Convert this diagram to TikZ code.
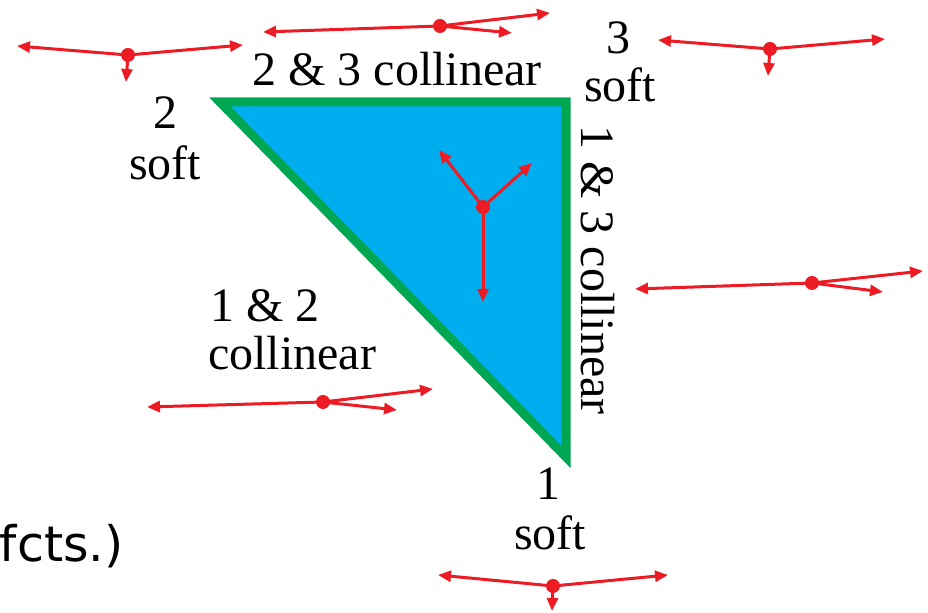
\documentclass[tikz,border=0pt]{standalone}
\usepackage{fontspec}
\setmainfont{Liberation Serif}
\newfontfamily\timesfont{Liberation Serif}
\newfontfamily\handfont{DejaVu Sans}
\usetikzlibrary{arrows.meta}
\definecolor{vecred}{RGB}{237,28,36}
\definecolor{edgegreen}{RGB}{0,166,81}
\definecolor{fillblue}{RGB}{0,174,239}
\tikzset{
  lbl/.style={font=\timesfont\fontsize{24}{26}\selectfont, inner sep=0pt, anchor=base},
  mom/.style={circle, fill=vecred, inner sep=0pt, minimum size=7pt},
  vec/.style={draw=vecred, line width=1.5pt, -{Triangle[length=6.5pt, width=5.5pt]}}
}
\begin{document}
\begin{tikzpicture}[x=0.5pt, y=-0.5pt]
			\useasboundingbox (0,0) rectangle (928,613);

			% Dalitz triangle
			\coordinate (T2) at (220,102);
			\coordinate (T3) at (566,102);
			\coordinate (T1) at (566,457);
			\draw[edgegreen, fill=fillblue, line width=4.5pt, line join=miter] (T2) -- (T3) -- (T1) -- cycle;

			% Labels
			\node[lbl] (n2) at (165,129) {2};
			\node[lbl] (s2) at (165,180) {soft};
			\node[lbl] (n3) at (618,54) {3};
			\node[lbl] (s3) at (620,102) {soft};
			\node[lbl] (n1) at (548,500) {1};
			\node[lbl] (s1) at (550,550) {soft};
			\node[lbl] (c23) at (397,86) {2 \& 3 collinear};
			\node[lbl] (c12a) at (265,322) {1 \& 2};
			\node[lbl] (c12b) at (292,370) {collinear};
			\node[lbl, anchor=center, rotate=-90] (c13) at (598,270) {1 \& 3 collinear};
			\node[font=\handfont\fontsize{24.5}{26}\selectfont, inner sep=0pt, anchor=base east] (fcts) at (124,562) {fcts.)};

			% Event topologies: dots with momentum arrows
			\node[mom] (d2) at (128,55) {};
			\coordinate (d2l) at (17,46);
			\coordinate (d2r) at (243,45);
			\coordinate (d2d) at (126,82);
			\draw[vec] (d2.center) -- (d2l);
			\draw[vec] (d2.center) -- (d2r);
			\draw[vec] (d2.center) -- (d2d);

			\node[mom] (d23) at (440,26) {};
			\coordinate (d23l) at (263,32);
			\coordinate (d23r) at (550,13);
			\coordinate (d23s) at (512,33);
			\draw[vec] (d23.center) -- (d23l);
			\draw[vec] (d23.center) -- (d23r);
			\draw[vec] (d23.center) -- (d23s);

			\node[mom] (d3) at (770,49) {};
			\coordinate (d3l) at (658,40);
			\coordinate (d3r) at (885,39);
			\coordinate (d3d) at (768,76);
			\draw[vec] (d3.center) -- (d3l);
			\draw[vec] (d3.center) -- (d3r);
			\draw[vec] (d3.center) -- (d3d);

			\node[mom] (dc) at (483,207) {};
			\coordinate (dcl) at (439,150);
			\coordinate (dcr) at (532,163);
			\coordinate (dcd) at (483,302);
			\draw[vec] (dc.center) -- (dcl);
			\draw[vec] (dc.center) -- (dcr);
			\draw[vec] (dc.center) -- (dcd);

			\node[mom] (d13) at (812,283) {};
			\coordinate (d13l) at (635,289);
			\coordinate (d13r) at (923,271);
			\coordinate (d13s) at (883,292);
			\draw[vec] (d13.center) -- (d13l);
			\draw[vec] (d13.center) -- (d13r);
			\draw[vec] (d13.center) -- (d13s);

			\node[mom] (d12) at (323,402) {};
			\coordinate (d12l) at (147,407);
			\coordinate (d12r) at (433,389);
			\coordinate (d12s) at (397,410);
			\draw[vec] (d12.center) -- (d12l);
			\draw[vec] (d12.center) -- (d12r);
			\draw[vec] (d12.center) -- (d12s);

			\node[mom] (d1) at (553,586) {};
			\coordinate (d1l) at (438,575);
			\coordinate (d1r) at (668,575);
			\coordinate (d1d) at (552,611);
			\draw[vec] (d1.center) -- (d1l);
			\draw[vec] (d1.center) -- (d1r);
			\draw[vec] (d1.center) -- (d1d);

		\end{tikzpicture}
\end{document}
